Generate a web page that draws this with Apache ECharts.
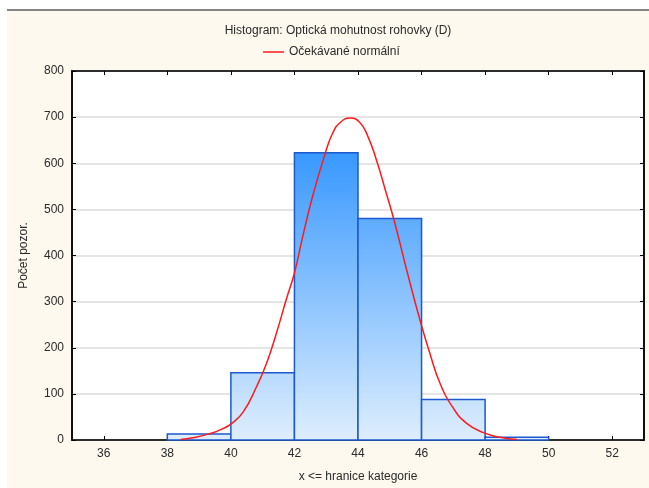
<!DOCTYPE html>
<html>
<head>
<meta charset="utf-8">
<script src="https://cdn.jsdelivr.net/npm/echarts@6/dist/echarts.min.js"></script>
<style>
  html, body { margin: 0; padding: 0; background: #ffffff; }
  #frame {
    position: absolute; left: 7px; top: 9px; width: 642px; height: 479px;
    background: #fef9ef; border-top: 2px solid #858585; box-sizing: border-box;
  }
  #chart { position: absolute; left: 0; top: 0; width: 649px; height: 488px; }
</style>
</head>
<body>
<div id="frame"></div>
<div id="chart"></div>
<script>
// Histogram bins (lower/upper bounds) and counts
const binLower = [38, 40, 42, 44, 46, 48];
const binUpper = [40, 42, 44, 46, 48, 50];
const binCounts = [13, 146, 623, 480, 88, 6];

// Expected normal curve, sampled points
const curveX = [38.42, 38.9, 39.35, 39.7, 40.03, 40.39, 40.81, 41.12, 41.43, 41.74, 42.0, 42.26, 42.57, 42.94, 43.20, 43.45, 43.75,
                44.05, 44.30, 44.58, 44.89, 45.16, 45.53, 45.95, 46.26, 46.58, 47.0, 47.42, 47.95, 48.47, 49.0];
const curveY = [1, 6, 14, 23, 36, 61, 116, 166, 231, 304, 362, 441, 528, 615, 665, 689, 698,
                689, 660, 607, 535, 470, 369, 260, 188, 123, 69, 36, 16, 6, 1];

// Axis ticks
const xTicks = [36, 38, 40, 42, 44, 46, 48, 50, 52];

const titleText = 'Histogram: Optická mohutnost rohovky (D)';
const legendText = 'Očekávané normální';
const xName = 'x <= hranice kategorie';
const yName = 'Počet pozor.';

const font = '"Liberation Sans", Arial, sans-serif';
const txt = '#2a2a2a';

const binData = binLower.map((lo, i) => [lo, binUpper[i], binCounts[i]]);
const curveData = curveX.map((x, i) => [x, curveY[i]]);

const chart = echarts.init(document.getElementById('chart'), null, { renderer: 'canvas' });

const innerTicks = { show: true, inside: true, length: 4, lineStyle: { color: '#000', width: 1 } };

chart.setOption({
  backgroundColor: 'transparent',
  animation: false,
  title: {
    text: titleText,
    left: 333, top: 20, textAlign: 'center',
    textStyle: { fontFamily: font, fontSize: 12, fontWeight: 'normal', color: txt }
  },
  legend: {
    data: [legendText],
    left: 258, top: 41,
    icon: 'rect', itemWidth: 21, itemHeight: 1.5, itemGap: 6,
    textStyle: { fontFamily: font, fontSize: 12, color: txt, padding: [0, 0, 0, 0] }
  },
  grid: {
    left: 72, right: 5, top: 71, bottom: 48,
    show: true, backgroundColor: '#ffffff', borderColor: '#000', borderWidth: 1.5
  },
  xAxis: [{
    type: 'value', min: 35, max: 53,
    axisLine: { show: true, onZero: false, lineStyle: { color: '#000', width: 1.5 } },
    axisTick: Object.assign({ customValues: xTicks }, innerTicks),
    axisLabel: { customValues: xTicks, margin: 8, fontFamily: font, fontSize: 12, color: txt },
    splitLine: { show: false },
    name: xName, nameLocation: 'middle', nameGap: 31,
    nameTextStyle: { fontFamily: font, fontSize: 12, color: txt }
  }, {
    type: 'value', min: 35, max: 53, position: 'top',
    axisLine: { show: true, onZero: false, lineStyle: { color: '#000', width: 1.5 } },
    axisTick: Object.assign({ customValues: xTicks }, innerTicks),
    axisLabel: { show: false },
    splitLine: { show: false }
  }],
  yAxis: [{
    type: 'value', min: 0, max: 800, interval: 100,
    axisLine: { show: true, onZero: false, lineStyle: { color: '#000', width: 1.5 } },
    axisTick: innerTicks,
    axisLabel: { margin: 8, fontFamily: font, fontSize: 12, color: txt },
    splitLine: { show: true, lineStyle: { color: '#dcdcdc', width: 1.5 } },
    name: yName, nameLocation: 'middle', nameGap: 42, nameRotate: 90,
    nameTextStyle: { fontFamily: font, fontSize: 12, color: txt }
  }, {
    type: 'value', min: 0, max: 800, interval: 100, position: 'right',
    axisLine: { show: true, onZero: false, lineStyle: { color: '#000', width: 1.5 } },
    axisTick: innerTicks,
    axisLabel: { show: false },
    splitLine: { show: false }
  }],
  series: [{
    type: 'custom',
    name: 'bins',
    xAxisIndex: 0, yAxisIndex: 0,
    data: binData,
    encode: { x: [0, 1], y: 2 },
    renderItem: function (params, api) {
      const p0 = api.coord([api.value(0), api.value(2)]);
      const p1 = api.coord([api.value(1), 0]);
      const yTop = api.coord([0, 800])[1];
      const yBase = api.coord([0, 0])[1];
      // shared vertical gradient across all bars, anchored to the plot height
      const fill = new echarts.graphic.LinearGradient(0, yTop, 0, yBase, [
        { offset: 0, color: '#3897ff' },
        { offset: 0.22, color: '#3898ff' },
        { offset: 1, color: '#deeefd' }
      ], true);
      return {
        type: 'rect',
        shape: { x: p0[0], y: p0[1], width: p1[0] - p0[0], height: p1[1] - p0[1] },
        style: { fill: fill, stroke: '#1d58cf', lineWidth: 1.5 }
      };
    }
  }, {
    type: 'line',
    name: legendText,
    xAxisIndex: 0, yAxisIndex: 0,
    data: curveData,
    smooth: 0.5,
    symbol: 'none',
    lineStyle: { color: '#ff1a1a', width: 1.5 },
    itemStyle: { color: '#ff1a1a' },
    z: 5
  }]
});
</script>
</body>
</html>
